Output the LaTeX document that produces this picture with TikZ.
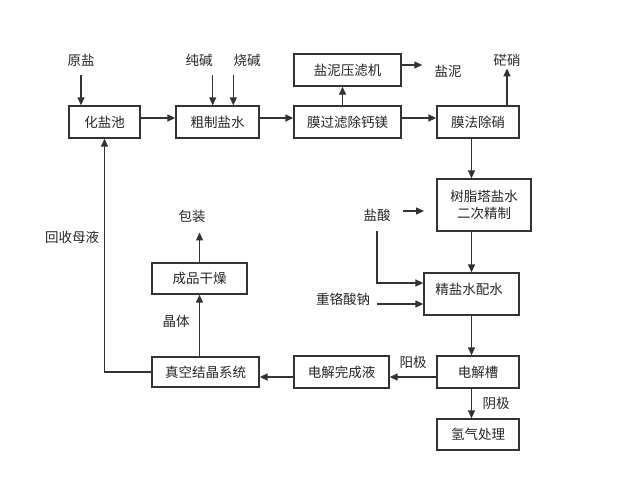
\documentclass[tikz,border=0pt]{standalone}
\usepackage{fontspec}
\newfontfamily\cjk{Noto Sans CJK SC}
\usetikzlibrary{arrows.meta,positioning,calc}

\tikzset{
  box/.style={draw=black!80, line width=1.3pt, inner sep=0pt, minimum height=32pt, text=black!85},
  lbl/.style={inner sep=0pt, text=black!85},
  arr/.style={-{Triangle[length=8pt,width=7pt]}, line width=1.3pt, draw=black!80},
  every node/.style={font=\cjk\fontsize{13.5}{17}\selectfont},
}

\begin{document}
\begin{tikzpicture}[x=1pt, y=-1pt]
        \useasboundingbox (0,0) rectangle (636,479);

        % top row
        \node[box, minimum width=71pt] (hyc) at (104.5,122) {化盐池};
        \node[box, minimum width=83pt] (cz) at (217.5,122) {粗制盐水};
        \node[box, minimum width=107pt] (mgl) at (347.5,122) {膜过滤除钙镁};
        \node[box, minimum width=107pt] (ynj) at (347.5,70) {盐泥压滤机};
        \node[box, minimum width=82pt] (mfcx) at (478,122) {膜法除硝};

        \node[lbl] (yy) at (81,60) {原盐};
        \node[lbl] (cj) at (199,60) {纯碱};
        \node[lbl] (sj) at (247,60) {烧碱};
        \node[lbl] (yn) at (448,71) {盐泥};
        \node[lbl] (mx) at (507,60) {硭硝};

        % right column
        \node[box, minimum width=94pt, minimum height=52pt, align=center] (szt) at (484,205) {树脂塔盐水\\二次精制};
        \node[box, minimum width=95pt, minimum height=42pt] (jys) at (471.5,294) {};
        \node[lbl] at (469,289) {精盐水配水};
        \node[box, minimum width=82pt] (djc) at (478,372) {电解槽};
        \node[box, minimum width=82pt, minimum height=31pt] (qq) at (478,434.5) {氢气处理};

        \node[lbl] (ys) at (377,215) {盐酸};
        \node[lbl] (zgs) at (343,299) {重铬酸钠};
        \node[lbl] (yj) at (413,362) {阳极};
        \node[lbl] (yinj) at (496,403) {阴极};

        % bottom row
        \node[box, minimum width=95pt] (djwc) at (341.5,372) {电解完成液};
        \node[box, minimum width=107pt, minimum height=30pt] (zk) at (205.5,372) {真空结晶系统};
        \node[box, minimum width=95pt, minimum height=31pt] (cp) at (199.5,278.5) {成品干燥};

        \node[lbl] (hsmy) at (72,237) {回收母液};
        \node[lbl] (jt) at (176,321) {晶体};
        \node[lbl] (bz) at (192,216) {包装};

        \coordinate (ysend) at (424,211);

        % connectors
        \draw[arr, shorten <=9pt] (yy.south) -- (yy.south |- hyc.north);
        \draw[arr, shorten <=9pt] (cj.south east) -- (cj.south east |- cz.north);
        \draw[arr, shorten <=9pt] (sj.south west) -- (sj.south west |- cz.north);
        \draw[arr] ([yshift=4pt]hyc.east) -- ([yshift=4pt]cz.west);
        \draw[arr] ([yshift=4pt]cz.east) -- ([yshift=4pt]mgl.west);
        \draw[arr] ([yshift=4pt]mgl.east) -- ([yshift=4pt]mfcx.west);
        \draw[arr] ([xshift=-5pt]mgl.north) -- ([xshift=-5pt]ynj.south);
        \draw[arr] ([yshift=5pt]ynj.east) -- ([xshift=-12pt,yshift=6pt]yn.west);
        \draw[arr, shorten >=2pt] (mx.south |- mfcx.north) -- (mx.south);

        \draw[arr] (mfcx.south -| jys) -- (szt.north -| jys);
        \draw[arr] (szt.south -| jys) -- (jys.north);
        \draw[arr] (jys.south) -- (djc.north -| jys);
        \draw[arr] (djc.south -| jys) -- (qq.north -| jys);
        \draw[arr, shorten <=12pt] (ysend -| ys.east) -- (ysend);
        \draw[arr, shorten <=10pt] (ys.south) |- ([yshift=11pt]jys.west);
        \draw[arr, shorten <=7pt] ([yshift=-5pt]zgs.east) -- ([yshift=-10pt]jys.west);

        \draw[arr] ([yshift=-5pt]djc.west) -- ([yshift=-5pt]djwc.east);
        \draw[arr] ([yshift=-5pt]djwc.west) -- ([yshift=-5pt]zk.east);
        \draw[arr] (zk.west) -| (hyc.south);
        \draw[arr] (zk.north -| cp) -- (cp.south);
        \draw[arr, shorten >=10pt] (cp.north) -- (cp.north |- bz.south);
\end{tikzpicture}
\end{document}
